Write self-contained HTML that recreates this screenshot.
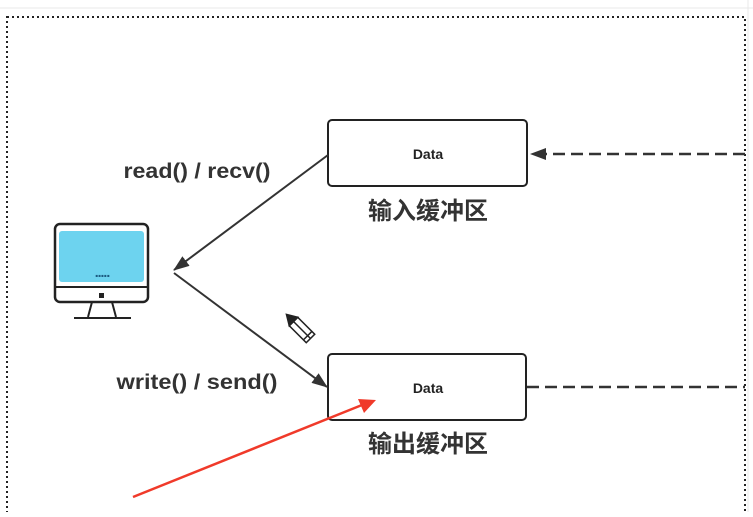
<!DOCTYPE html>
<html><head><meta charset="utf-8"><style>
body{margin:0;background:#fff;width:753px;height:512px;overflow:hidden;font-family:"Liberation Sans","Noto Sans CJK SC",sans-serif}
</style></head><body>
<svg width="753" height="512" xmlns="http://www.w3.org/2000/svg">
<defs>
<marker id="a2" markerWidth="16" markerHeight="12" refX="15" refY="6" orient="auto" markerUnits="userSpaceOnUse"><path d="M0,0 L16,6 L0,12 z" fill="#333"/></marker>
</defs>
<g stroke="#e8e8e8" stroke-width="1">
<line x1="0" y1="8" x2="753" y2="8"/>
<line x1="748" y1="0" x2="748" y2="512"/>
</g>
<rect x="7" y="17" width="738" height="500" fill="none" stroke="#222" stroke-width="2" stroke-dasharray="2,3"/>
<rect x="328" y="120" width="199" height="66" rx="4" fill="#fff" stroke="#222" stroke-width="2"/>
<rect x="328" y="354" width="198" height="66" rx="4" fill="#fff" stroke="#222" stroke-width="2"/>
<text x="428" y="159" font-size="14" font-weight="bold" text-anchor="middle" fill="#222">Data</text>
<text x="428" y="393" font-size="14" font-weight="bold" text-anchor="middle" fill="#222">Data</text>
<text x="428" y="219" font-size="24" font-weight="bold" text-anchor="middle" fill="#333">输入缓冲区</text>
<text x="428" y="452" font-size="24" font-weight="bold" text-anchor="middle" fill="#333">输出缓冲区</text>
<text x="197" y="178" font-size="21" font-weight="bold" text-anchor="middle" fill="#333" textLength="147" lengthAdjust="spacingAndGlyphs">read() / recv()</text>
<text x="197" y="389" font-size="21" font-weight="bold" text-anchor="middle" fill="#333" textLength="161" lengthAdjust="spacingAndGlyphs">write() / send()</text>
<line x1="328" y1="155" x2="174" y2="270" stroke="#333" stroke-width="2" marker-end="url(#a2)"/>
<line x1="174" y1="273" x2="327" y2="387" stroke="#333" stroke-width="2" marker-end="url(#a2)"/>
<line x1="745" y1="154" x2="531" y2="154" stroke="#333" stroke-width="2.5" stroke-dasharray="12,6" marker-end="url(#a2)"/>
<line x1="527" y1="387" x2="745" y2="387" stroke="#333" stroke-width="2.5" stroke-dasharray="12,6"/>
<rect x="55" y="224" width="93" height="78" rx="5" fill="#fff" stroke="#222" stroke-width="2.5"/>
<rect x="59" y="231" width="85" height="51" rx="3" fill="#6dd3ef"/>
<line x1="55" y1="287" x2="148" y2="287" stroke="#222" stroke-width="2"/>
<text x="102" y="277" font-size="14" font-weight="bold" text-anchor="middle" fill="#1b5a80" letter-spacing="-1">.....</text>
<rect x="99" y="293" width="5" height="5" fill="#222"/>
<path d="M92,302 L88,317 M112,302 L116,317" stroke="#222" stroke-width="2"/>
<line x1="74" y1="318" x2="131" y2="318" stroke="#222" stroke-width="2"/>
<g transform="translate(302,330) rotate(-45)" stroke="#222" stroke-width="1.5" fill="#fff">
<rect x="-6" y="-12" width="12" height="24"/>
<path d="M-6,-12 L0,-22 L6,-12 z" fill="#222"/>
<line x1="0" y1="-12" x2="0" y2="12"/>
<line x1="-6" y1="8" x2="6" y2="8"/>
</g>
<line x1="133" y1="497" x2="362" y2="405" stroke="#f03a2a" stroke-width="2.5"/>
<path d="M376,400 L358,399 L364,413 z" fill="#f03a2a"/>
</svg>
</body></html>
